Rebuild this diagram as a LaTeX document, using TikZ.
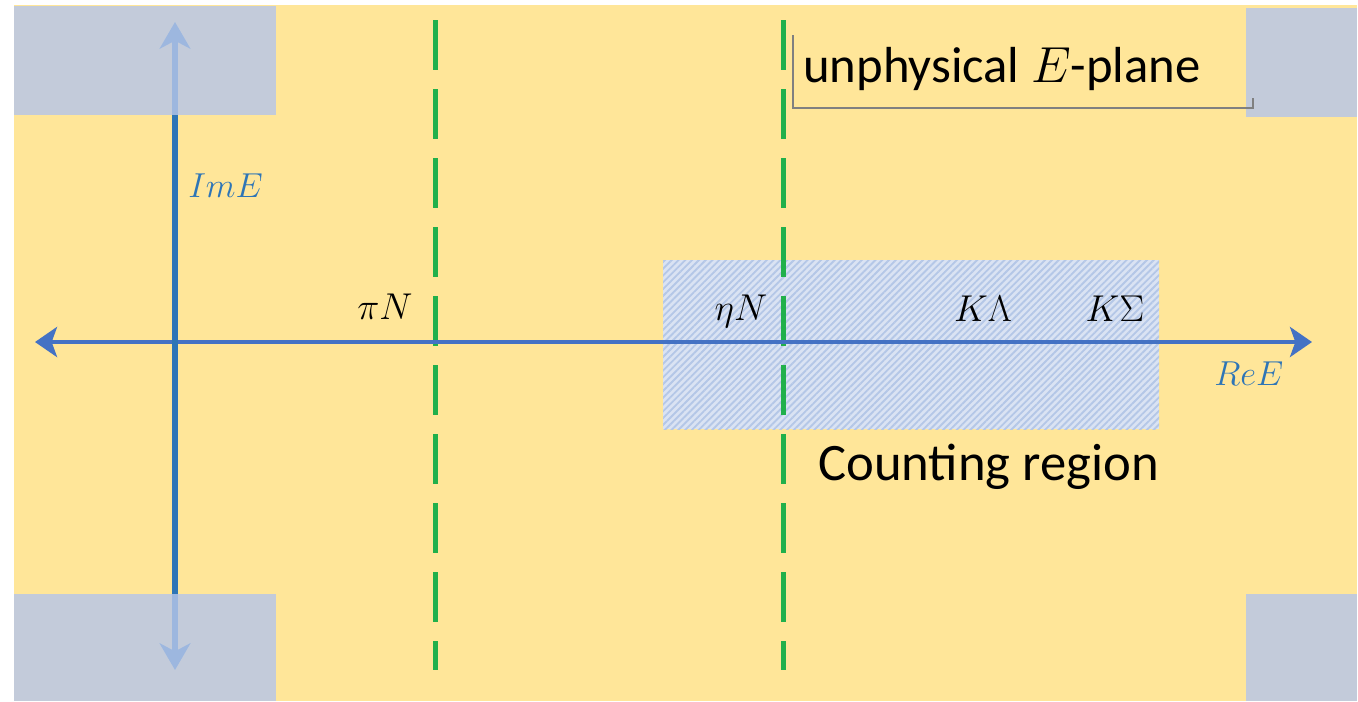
\documentclass[tikz,border=0pt]{standalone}
\usepackage{fix-cm}
\usepackage{fontspec}
\newfontfamily\calfont{Carlito}
\usetikzlibrary{arrows.meta,patterns.meta}
\definecolor{bgyellow}{HTML}{FFE699}
\definecolor{boxgray}{HTML}{B6C6E9}
\definecolor{axisblue}{HTML}{4472C4}
\definecolor{vaxisblue}{HTML}{2E75B6}
\definecolor{lblblue}{HTML}{2E75B6}
\definecolor{dashgreen}{HTML}{21B04B}
\definecolor{hatchbg}{HTML}{DAE3F3}
\definecolor{hatchfg}{HTML}{B4C7E7}
\definecolor{framegray}{HTML}{808080}
\tikzset{
  corner/.style={fill=boxgray, fill opacity=0.82, draw=none},
  threshold/.style={draw=dashgreen, line width=3.75pt, dash pattern=on 37.5pt off 14.25pt},
  haxis/.style={draw=axisblue, line width=3.4pt, {Stealth[length=16.5pt,width=22.5pt,inset=4pt]}-{Stealth[length=16.5pt,width=22.5pt,inset=4pt]}},
  vaxis/.style={draw=vaxisblue, line width=4.3pt, {Stealth[length=20pt,width=23pt,inset=6pt]}-{Stealth[length=20pt,width=23pt,inset=6pt]}},
  chan/.style={anchor=base, font=\fontsize{28}{30}\selectfont, inner sep=0pt},
  axlbl/.style={anchor=base west, text=lblblue, font=\fontsize{26}{28}\selectfont, inner sep=0pt},
  bigtext/.style={anchor=base west, font=\calfont\fontsize{39}{42}\selectfont, inner sep=0pt}
}
\begin{document}
\begin{tikzpicture}[x=0.75pt, y=-0.75pt]
\useasboundingbox (0,0) rectangle (1358,701);
% background
\fill[bgyellow] (14,5) rectangle (1357,701);
% counting region (hatched)
\fill[hatchbg] (663,260) rectangle (1159,429);
\fill[pattern={Lines[angle=45, distance=3.6pt, line width=1.4pt]}, pattern color=hatchfg] (663,260) rectangle (1159,429);
% thresholds
\coordinate (g1t) at (435,20); \coordinate (g1b) at (435,670);
\coordinate (g2t) at (783,20); \coordinate (g2b) at (783,670);
\draw[threshold] (g1t) -- (g1b);
\draw[threshold] (g2t) -- (g2b);
% axes
\coordinate (xl) at (35,342); \coordinate (xr) at (1312,342);
\coordinate (yt) at (175,22); \coordinate (yb) at (175,670);
\draw[haxis] (xl) -- (xr);
\draw[vaxis] (yb) -- (yt);
% gray corner boxes (semi transparent)
\fill[corner] (14,6) rectangle (276,115);
\fill[corner] (14,594) rectangle (276,701);
\fill[corner] (1246,8) rectangle (1357,117);
\fill[corner] (1246,594) rectangle (1357,701);
% frame around title
\coordinate (f1) at (793,35); \coordinate (f2) at (793,108);
\coordinate (f3) at (1253,108); \coordinate (f4) at (1253,98);
\draw[framegray, line width=0.8pt] (f1) -- (f2) -- (f3) -- (f4);
% labels
\node[bigtext, font=\calfont\fontsize{38}{40}\selectfont] (title) at (803,82) {unphysical $E$-plane};
\node[bigtext, font=\calfont\fontsize{39.5}{42}\selectfont] (count) at (818,480) {Counting region};
\node[chan] (piN) at (385,319) {$\pi N$};
\node[chan] (etaN) at (741,320) {$\eta N$};
\node[chan] (KL) at (983,321) {$K\Lambda$};
\node[chan] (KS) at (1115,321) {$K\Sigma$};
\node[axlbl] (ImE) at (188,197) {$ImE$};
\node[axlbl] (ReE) at (1214,385) {$ReE$};
\end{tikzpicture}
\end{document}
